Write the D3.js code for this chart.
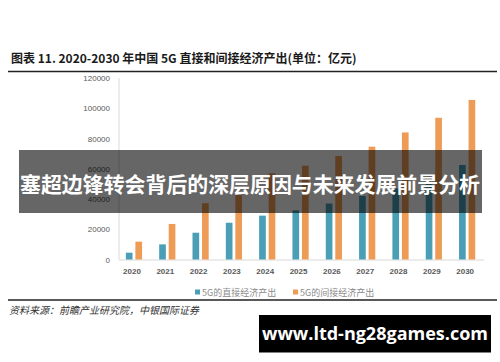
<!DOCTYPE html>
<html>
<head>
<meta charset="utf-8">
<script src="https://cdn.jsdelivr.net/npm/d3@7"></script>
<style>
  html, body { margin: 0; padding: 0; background: #fff; }
  svg { display: block; }
</style>
</head>
<body>
<svg id="chart" width="500" height="362"></svg>
<script>
const years = ["2020","2021","2022","2023","2024","2025","2026","2027","2028","2029","2030"];
const directOutput = [4500, 10000, 17700, 24300, 29000, 32500, 37000, 42000, 47000, 51000, 62500];
const indirectOutput = [11800, 23500, 37200, 42600, 57000, 62000, 68400, 74600, 84000, 93700, 105500];
const seriesNames = ["5G的直接经济产出", "5G的间接经济产出"];
const yTicks = [0, 20000, 40000, 60000, 80000, 100000, 120000];
const titleText = "图表 11. 2020-2030 年中国 5G 直接和间接经济产出(单位：亿元)";
const sourceText = "资料来源：前瞻产业研究院，中银国际证券";
const bannerText = "塞超边锋转会背后的深层原因与未来发展前景分析";
const watermarkText = "www.ltd-ng28games.com";

const colors = ["#4a9fb6", "#ee9b56"];
const svg = d3.select("#chart");
const cjk = "'Noto Sans CJK SC', 'Noto Sans', sans-serif";

// Title and rules
svg.append("text").attr("x", 11).attr("y", 63)
  .attr("font-family", cjk).attr("font-weight", "bold").attr("font-size", 12)
  .attr("fill", "#1a1a1a").text(titleText);
svg.append("line").attr("x1", 8).attr("x2", 497).attr("y1", 71.5).attr("y2", 71.5)
  .attr("stroke", "#222").attr("stroke-width", 1.6);
svg.append("line").attr("x1", 8).attr("x2", 497).attr("y1", 300).attr("y2", 300)
  .attr("stroke", "#222").attr("stroke-width", 1.6);

// Scales
const x = d3.scaleBand().domain(years).range([117.3, 483.8]).paddingInner(0).paddingOuter(0);
const inner = d3.scaleBand().domain([0, 1]).range([-8.1, 8.1]).paddingInner(0.3).paddingOuter(0);
const y = d3.scaleLinear().domain([0, 120000]).range([259.5, 78]);

// Axes
const yAxis = d3.axisLeft(y).tickValues(yTicks).tickSize(0).tickPadding(0).tickFormat(d3.format("d"));
const gy = svg.append("g").attr("transform", "translate(110,0)").call(yAxis);
gy.select(".domain").remove();
gy.selectAll("text").attr("font-family", "'Liberation Sans', Arial, sans-serif")
  .attr("font-size", 8).attr("fill", "#595959");

svg.append("line").attr("x1", 119).attr("x2", 119).attr("y1", y(120000)).attr("y2", y(0))
  .attr("stroke", "#d9d9d9").attr("stroke-width", 1);

const xAxis = d3.axisBottom(x).tickSize(0).tickPadding(9);
const gx = svg.append("g").attr("transform", `translate(0,${y(0)})`).call(xAxis);
gx.select(".domain").attr("stroke", "#d9d9d9").attr("d", `M119,0.5H484`);
gx.selectAll("text").attr("font-family", "'Liberation Sans', Arial, sans-serif")
  .attr("font-size", 8).attr("font-weight", "bold").attr("fill", "#595959")
  .attr("dx", -2);

// Bars
const series = [directOutput, indirectOutput];
series.forEach((vals, si) => {
  svg.append("g").selectAll("rect").data(years).join("rect")
    .attr("x", (d) => x(d) + x.bandwidth() / 2 + inner(si))
    .attr("width", inner.bandwidth())
    .attr("y", (d, i) => y(vals[i]))
    .attr("height", (d, i) => y(0) - y(vals[i]))
    .attr("fill", colors[si]);
});

// Legend
const legendX = [195, 293];
seriesNames.forEach((name, i) => {
  svg.append("rect").attr("x", legendX[i]).attr("y", 289.5).attr("width", 5).attr("height", 5)
    .attr("fill", colors[i]);
  svg.append("text").attr("x", legendX[i] + 7).attr("y", 295.5)
    .attr("font-family", cjk).attr("font-size", 9).attr("fill", "#8a8a8a").text(name);
});

// Source
svg.append("text").attr("x", 9).attr("y", 313.5)
  .attr("font-family", cjk).attr("font-size", 10).attr("font-style", "italic")
  .attr("fill", "#333").text(sourceText);

// Banner overlay
svg.append("rect").attr("x", 19).attr("y", 150).attr("width", 463).attr("height", 63)
  .attr("fill", "#000").attr("fill-opacity", 0.6);
svg.append("text").attr("x", 250).attr("y", 191.5).attr("text-anchor", "middle")
  .attr("font-family", cjk).attr("font-weight", "bold").attr("font-size", 21)
  .attr("fill", "#fff").attr("textLength", 460).attr("lengthAdjust", "spacingAndGlyphs")
  .text(bannerText);

// Watermark
svg.append("rect").attr("x", 259).attr("y", 315).attr("width", 232).attr("height", 37.5)
  .attr("fill", "#000");
svg.append("text").attr("x", 375).attr("y", 340).attr("text-anchor", "middle")
  .attr("font-family", "'Open Sans', 'DejaVu Sans', sans-serif").attr("font-weight", "bold")
  .attr("font-size", 18).attr("fill", "#fff").text(watermarkText);
</script>
</body>
</html>
